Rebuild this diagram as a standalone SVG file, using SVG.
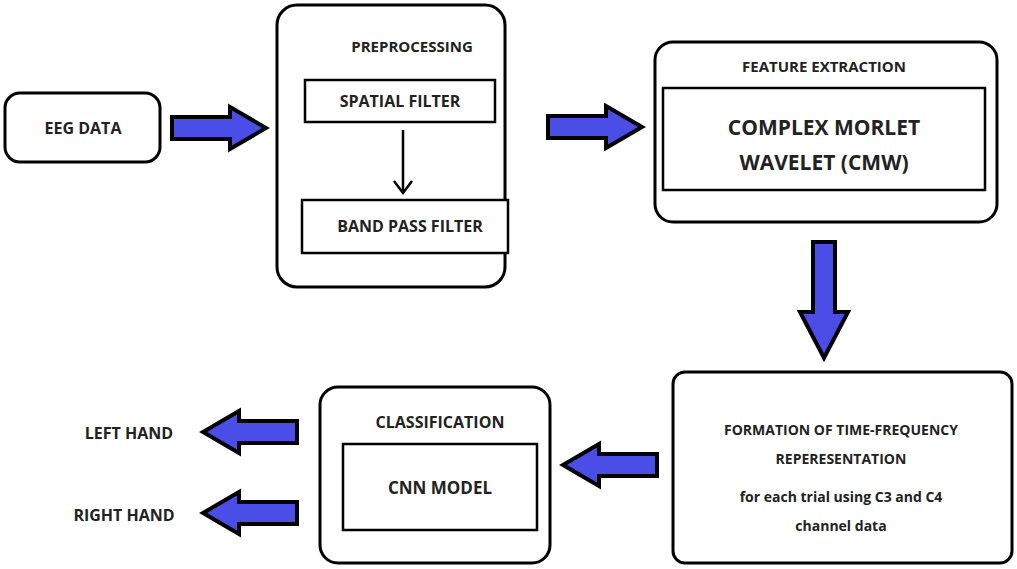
<svg xmlns="http://www.w3.org/2000/svg" xmlns:xlink="http://www.w3.org/1999/xlink" width="1017" height="569" viewBox="0 0 1017 569">
<style>
.box{fill:#fff;stroke:#000;stroke-width:3}
.in{fill:#fff;stroke:#000;stroke-width:2.5}
.t{font-family:"Open Sans","Liberation Sans",sans-serif;font-weight:bold;fill:#222;text-anchor:middle}
.ba{fill:#4a4ee6;stroke:#000;stroke-width:4;stroke-linejoin:miter}
</style>
<defs>
<polygon id="arr" class="ba" points="0,-11 58,-11 58,-21 94,0 58,21 58,11 0,11"/>
</defs>
<rect width="1017" height="569" fill="#fff"/>
<g id="eeg"><rect class="box" x="5" y="93" width="155" height="69" rx="15"/><text class="t" x="83" y="134" font-size="16">EEG DATA</text></g>
<g id="pre"><rect class="box" x="277" y="5" width="228" height="282" rx="20"/><text class="t" x="412" y="52" font-size="15">PREPROCESSING</text>
<rect class="in" x="305" y="80" width="190" height="42"/><text class="t" x="400" y="107" font-size="16">SPATIAL FILTER</text>
<rect class="in" x="302" y="200" width="206" height="53"/><text class="t" x="410" y="232" font-size="16">BAND PASS FILTER</text></g>
<g id="feat"><rect class="box" x="655" y="42" width="342" height="180" rx="18"/><text class="t" x="824" y="72" font-size="15">FEATURE EXTRACTION</text>
<rect class="in" x="663" y="88" width="322" height="102"/><text class="t" x="824" y="135" font-size="21">COMPLEX MORLET</text><text class="t" x="824" y="170" font-size="21">WAVELET (CMW)</text></g>
<g id="tf"><rect class="box" x="673" y="372" width="339" height="191" rx="12"/>
<text class="t" x="841" y="435" font-size="14">FORMATION OF TIME-FREQUENCY</text><text class="t" x="841" y="464" font-size="14">REPERESENTATION</text>
<text class="t" x="841" y="502" font-size="14">for each trial using C3 and C4</text><text class="t" x="841" y="531" font-size="14">channel data</text></g>
<g id="cls"><rect class="box" x="320" y="387" width="230" height="176" rx="18"/><text class="t" x="440" y="428" font-size="16">CLASSIFICATION</text>
<rect class="in" x="343" y="444" width="194" height="86"/><text class="t" x="440" y="494" font-size="17">CNN MODEL</text></g>
<g id="left"><text class="t" x="129" y="439" font-size="16">LEFT HAND</text></g>
<g id="right"><text class="t" x="124" y="521" font-size="16">RIGHT HAND</text></g>
<g id="connectors">
<use xlink:href="#arr" transform="translate(172,128)"/>
<use xlink:href="#arr" transform="translate(548,127)"/>
<polygon class="ba" points="813,242 835,242 835,312 848,312 824,358 800,312 813,312"/>
<use xlink:href="#arr" transform="translate(657,465) rotate(180)"/>
<use xlink:href="#arr" transform="translate(297,432) rotate(180)"/>
<use xlink:href="#arr" transform="translate(297,513) rotate(180)"/>
<line x1="403" y1="130" x2="403" y2="192" stroke="#000" stroke-width="2.5"/>
<path d="M394,181 L403,193 L412,181" fill="none" stroke="#000" stroke-width="2.5"/>
</g>
</svg>
